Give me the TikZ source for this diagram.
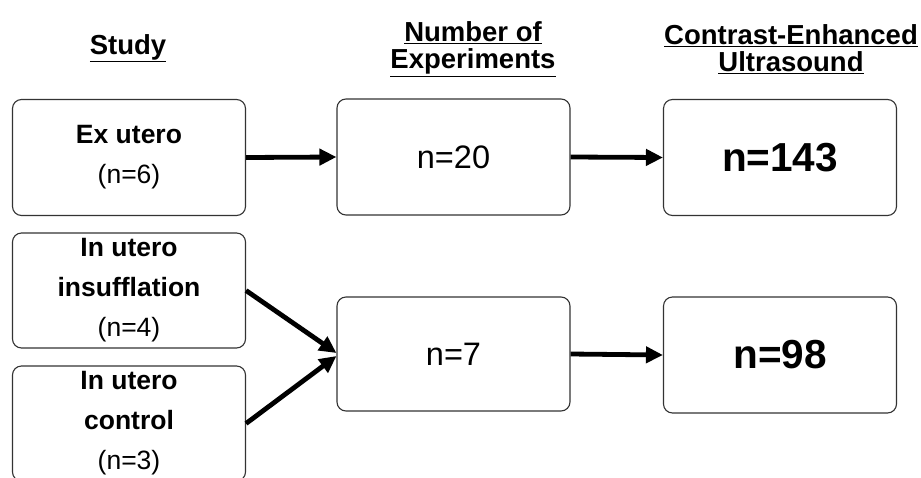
\documentclass[tikz,border=0pt]{standalone}
\usepackage{fontspec}
\setmainfont{Liberation Sans}
\usetikzlibrary{arrows.meta,positioning,calc}

\tikzset{
  box/.style={draw=black!80, line width=1.1pt, rounded corners=9pt, minimum width=233pt, minimum height=116pt, align=center, inner sep=0pt},
  head/.style={align=center, font=\fontsize{27.5}{27}\selectfont\bfseries},
  flow/.style={line width=4.8pt, -{Triangle[length=17pt,width=16pt]}},
  txt/.style={font=\fontsize{26.5}{40}\selectfont}
}

\begin{document}
\begin{tikzpicture}[x=1pt,y=-1pt]
    \useasboundingbox (0,0) rectangle (921,477);
    \clip (0,0) rectangle (921,477);
    % column headers
    \node[head] (hStudy) at (128,48) {\underline{Study}};
    \node[head] (hExp) at (473,49) {\underline{Number of}\\\underline{Experiments}};
    \node[head] (hCeus) at (791,49) {\underline{Contrast-Enhanced}\\\underline{Ultrasound}};

    % study boxes
    \node[box, txt] (exutero) at (129,157.5) {\textbf{Ex utero}\\(n=6)};
    \node[box, txt, minimum height=115pt] (insuf) at (129,290.5) {\textbf{In utero}\\\textbf{insufflation}\\(n=4)};
    \node[box, txt, minimum height=115pt] (ctrl) at (129,423.5) {\textbf{In utero}\\\textbf{control}\\(n=3)};

    % experiments
    \node[box, font=\fontsize{32.5}{36}\selectfont] (exp1) at (453.5,157) {n=20};
    \node[box, font=\fontsize{32.5}{36}\selectfont, minimum height=114pt] (exp2) at (453.5,354) {n=7};

    % CEUS
    \node[box, font=\fontsize{40.5}{44}\selectfont\bfseries] (ceus1) at (780,157.5) {n=143};
    \node[box, font=\fontsize{40.5}{44}\selectfont\bfseries] (ceus2) at (780,355) {n=98};

    % arrows
    \draw[flow] (exutero.east) -- (exp1.west);
    \draw[flow] (exp1.east) -- (ceus1.west);
    \draw[flow] (insuf.east) -- ($(exp2.west)+(0,-1)$);
    \draw[flow] (ctrl.east) -- ($(exp2.west)+(0,2)$);
    \draw[flow] (exp2.east) -- (ceus2.west);
\end{tikzpicture}
\end{document}
